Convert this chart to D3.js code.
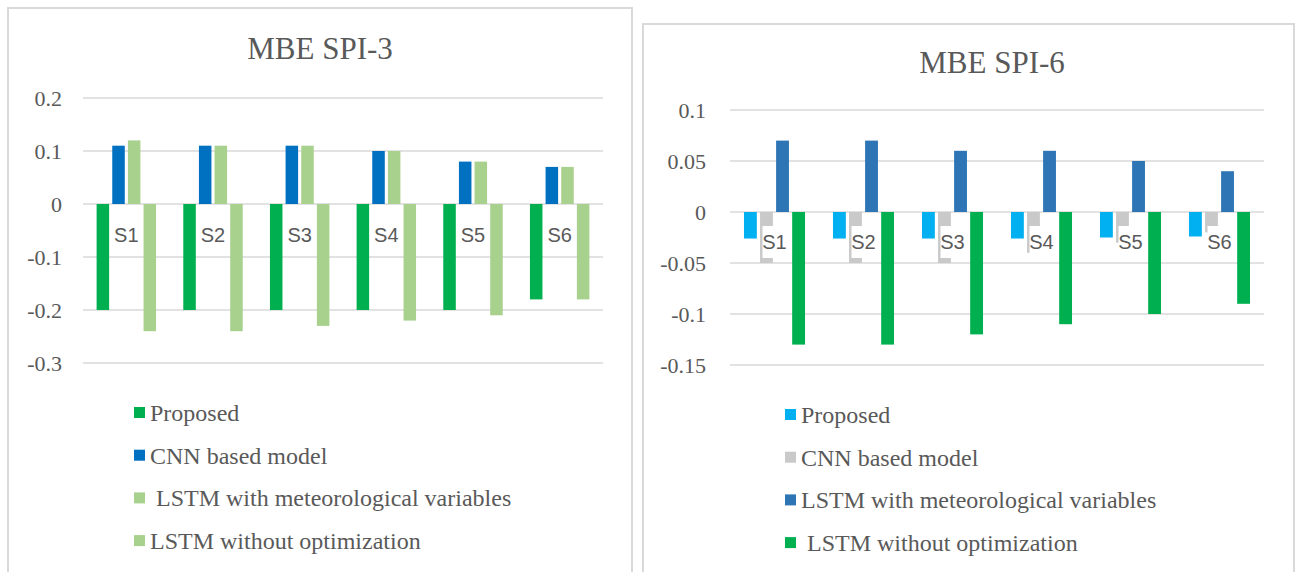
<!DOCTYPE html>
<html>
<head>
<meta charset="utf-8">
<script src="https://cdn.jsdelivr.net/npm/d3@7"></script>
<style>
  html, body { margin: 0; padding: 0; background: #ffffff; }
  svg { display: block; }
  text { white-space: pre; }
</style>
</head>
<body>
<svg id="chart" width="1297" height="572"></svg>
<script>
// Category labels and model names
const categories = ["S1", "S2", "S3", "S4", "S5", "S6"];
const seriesNames = [
  "Proposed",
  "CNN based model",
  "LSTM with meteorological variables",
  "LSTM without optimization"
];

// MBE for SPI-3
const spi3Proposed = [-0.20, -0.20, -0.20, -0.20, -0.20, -0.18];
const spi3Cnn      = [0.11, 0.11, 0.11, 0.10, 0.08, 0.07];
const spi3LstmMet  = [0.12, 0.11, 0.11, 0.10, 0.08, 0.07];
const spi3LstmNoOpt = [-0.24, -0.24, -0.23, -0.22, -0.21, -0.18];
const spi3Ticks = [0.2, 0.1, 0, -0.1, -0.2, -0.3];
const spi3TickLabels = ["0.2", "0.1", "0", "-0.1", "-0.2", "-0.3"];
const spi3LegendLabels = ["Proposed", "CNN based model", " LSTM with meteorological variables", "LSTM without optimization"];

// MBE for SPI-6
const spi6Proposed = [-0.026, -0.026, -0.026, -0.026, -0.025, -0.024];
const spi6Cnn      = [-0.05, -0.05, -0.05, -0.04, -0.03, -0.02];
const spi6LstmMet  = [0.07, 0.07, 0.06, 0.06, 0.05, 0.04];
const spi6LstmNoOpt = [-0.13, -0.13, -0.12, -0.11, -0.10, -0.09];
const spi6Ticks = [0.1, 0.05, 0, -0.05, -0.1, -0.15];
const spi6TickLabels = ["0.1", "0.05", "0", "-0.05", "-0.1", "-0.15"];
const spi6LegendLabels = ["Proposed", "CNN based model", "LSTM with meteorological variables", " LSTM without optimization"];

const TEXT = "#595959";
const GRID = "#d9d9d9";
const SERIF = "'Liberation Serif', 'Times New Roman', serif";
const SANS = "'Liberation Sans', Arial, sans-serif";

const svg = d3.select("#chart");

function drawPanel(cfg) {
  const g = svg.append("g");

  // frame
  g.append("rect")
    .attr("x", cfg.box[0]).attr("y", cfg.box[1])
    .attr("width", cfg.box[2]).attr("height", cfg.box[3])
    .attr("fill", "#fff").attr("stroke", GRID).attr("stroke-width", 2);

  // title
  g.append("text")
    .attr("x", cfg.titleX).attr("y", cfg.titleY)
    .attr("text-anchor", "middle")
    .style("font-family", SERIF).style("font-size", "31px")
    .attr("fill", TEXT)
    .text(cfg.title);

  const y = d3.scaleLinear().domain(cfg.domain).range(cfg.yRange);
  const x0 = d3.scaleBand().domain(categories).range(cfg.xRange);
  const x1 = d3.scaleBand().domain(d3.range(seriesNames.length))
    .range([0, x0.bandwidth()]).paddingInner(0.2).paddingOuter(0.87);

  // gridlines
  g.append("g").selectAll("line").data(cfg.ticks).join("line")
    .attr("x1", cfg.xRange[0]).attr("x2", cfg.xRange[1])
    .attr("y1", d => y(d)).attr("y2", d => y(d))
    .attr("stroke", GRID).attr("stroke-width", 1.5);

  // y axis labels
  const axis = d3.axisLeft(y).tickValues(cfg.ticks)
    .tickFormat((d, i) => cfg.tickLabels[i]).tickSize(0).tickPadding(0);
  const ax = g.append("g")
    .attr("transform", `translate(${cfg.tickRight},0)`)
    .call(axis)
    .attr("font-family", null).attr("font-size", null);
  ax.select(".domain").remove();
  ax.selectAll("text")
    .style("font-family", SERIF).style("font-size", "22px")
    .attr("fill", TEXT).attr("dy", "0.33em");

  // bars
  const rows = [];
  cfg.series.forEach((vals, si) => {
    vals.forEach((v, ci) => rows.push({ si, ci, v }));
  });
  g.append("g").selectAll("rect").data(rows).join("rect")
    .attr("x", d => x0(categories[d.ci]) + x1(d.si))
    .attr("width", x1.bandwidth())
    .attr("y", d => Math.min(y(d.v), y(0)))
    .attr("height", d => Math.abs(y(d.v) - y(0)))
    .attr("fill", d => cfg.colors[d.si]);

  // category labels sit just under the zero line, on a white box
  const zeroY = y(0);
  const lab = g.append("g").selectAll("g").data(categories).join("g")
    .attr("transform", d => `translate(${x0(d) + x0.bandwidth() / 2},${zeroY + cfg.labelOffset})`);
  lab.append("rect")
    .attr("x", -12).attr("y", -16).attr("width", 24).attr("height", 32)
    .attr("fill", "#fff");
  lab.append("text")
    .attr("text-anchor", "middle").attr("dy", "0.36em")
    .style("font-family", SANS).style("font-size", "20px")
    .attr("fill", TEXT)
    .text(d => d);

  // legend
  const leg = g.append("g").selectAll("g").data(cfg.legendLabels).join("g")
    .attr("transform", (d, i) => `translate(${cfg.legendX},${cfg.legendY + i * cfg.legendStep})`);
  leg.append("rect")
    .attr("x", 0).attr("y", -6).attr("width", 11).attr("height", 11)
    .attr("fill", (d, i) => cfg.colors[i]);
  leg.append("text")
    .attr("x", 16).attr("dy", "0.33em")
    .style("font-family", SERIF).style("font-size", "24px")
    .attr("fill", TEXT)
    .text(d => d);
}

drawPanel({
  box: [8, 8, 624, 580],
  title: "MBE SPI-3",
  titleX: 320, titleY: 59,
  domain: [-0.3, 0.2], yRange: [363, 98],
  xRange: [83, 603],
  ticks: spi3Ticks, tickLabels: spi3TickLabels, tickRight: 62,
  series: [spi3Proposed, spi3Cnn, spi3LstmMet, spi3LstmNoOpt],
  colors: ["#00b050", "#0070c0", "#a9d18e", "#a9d18e"],
  labelOffset: 31,
  legendLabels: spi3LegendLabels,
  legendX: 134, legendY: 413, legendStep: 42.7
});

drawPanel({
  box: [643, 24, 651, 570],
  title: "MBE SPI-6",
  titleX: 992, titleY: 73,
  domain: [-0.15, 0.1], yRange: [365, 110],
  xRange: [730, 1264],
  ticks: spi6Ticks, tickLabels: spi6TickLabels, tickRight: 706,
  series: [spi6Proposed, spi6Cnn, spi6LstmMet, spi6LstmNoOpt],
  colors: ["#00b0f0", "#c9c9c9", "#2e75b6", "#00b050"],
  labelOffset: 30,
  legendLabels: spi6LegendLabels,
  legendX: 785, legendY: 415, legendStep: 42.7
});
</script>
</body>
</html>
